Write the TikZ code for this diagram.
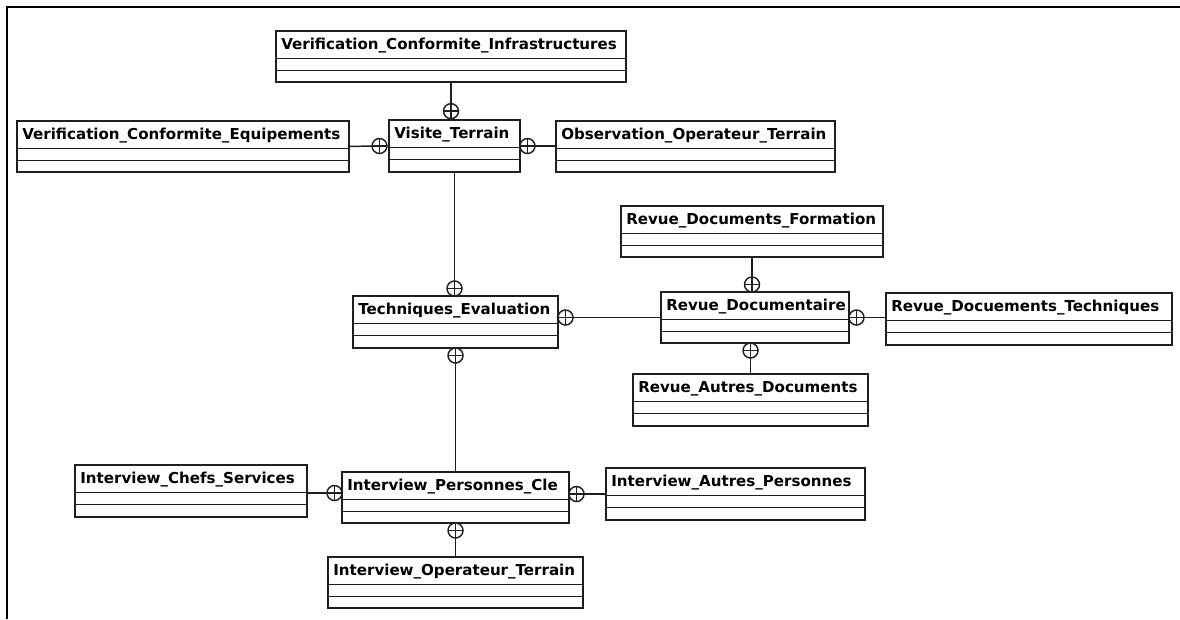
\documentclass[tikz,border=0pt]{standalone}
\usepackage{fontspec}
\setsansfont{DejaVu Sans}
% one class box: name, x1, y1, x2, y2 (pixel grid), title
\newcommand{\umlclass}[6]{%
  \node[cls, anchor=north west,
        minimum width={(#4-#2)*0.75pt},
        minimum height={(#5-#3)*0.75pt}] (#1) at (#2,#3) {};
  \draw[sep] ([yshift=-20.6pt]#1.north west) -- ([yshift=-20.6pt]#1.north east);
  \draw[sep] ([yshift=-29.6pt]#1.north west) -- ([yshift=-29.6pt]#1.north east);
  \node[lbl, anchor=base west] (#1-title) at ([xshift=3.8pt,yshift=-14.2pt]#1.north west) {#6};
}
\begin{document}
\begin{tikzpicture}[x=0.75pt,y=-0.75pt,
  cls/.style={draw=black!88, line width=1.1pt, inner sep=0pt, outer sep=0pt, fill=white},
  sep/.style={draw=black!88, line width=1.1pt},
  lbl/.style={inner sep=0pt, font=\fontsize{11.3}{13}\selectfont\sffamily\bfseries},
  link/.style={draw=black!88, line width=1.1pt},
  nest/.style={circle, draw=black!88, line width=1.1pt, fill=white, inner sep=0pt,
    outer sep=0pt, minimum size=11.25pt,
    path picture={\draw[line width=1.1pt]
      (path picture bounding box.north) -- (path picture bounding box.south)
      (path picture bounding box.west) -- (path picture bounding box.east);}},
  frame/.style={draw=black, line width=1.8pt}]
\useasboundingbox (0,0) rectangle (1180,619);
\fill[white] (0,0) rectangle (1180,619);
\draw[frame] (1180,7) -- (7,7) -- (7,619);

% classes
\umlclass{infra}{276}{31}{626}{82}{Verification\_Conformite\_Infrastructures}
\umlclass{equip}{17}{121}{349}{172}{Verification\_Conformite\_Equipements}
\umlclass{visite}{389}{120}{520}{172}{Visite\_Terrain}
\umlclass{observ}{556}{121}{835}{172}{Observation\_Operateur\_Terrain}
\umlclass{form}{621}{206}{883}{257}{Revue\_Documents\_Formation}
\umlclass{tech}{353}{296}{558}{348}{Techniques\_Evaluation}
\umlclass{revdoc}{661}{292}{849}{343}{Revue\_Documentaire}
\umlclass{revtech}{886}{293}{1172}{345}{Revue\_Docuements\_Techniques}
\umlclass{revautres}{633}{374}{868}{426}{Revue\_Autres\_Documents}
\umlclass{chefs}{75}{465}{307}{517}{Interview\_Chefs\_Services}
\umlclass{perscle}{342}{472}{569}{523}{Interview\_Personnes\_Cle}
\umlclass{autrpers}{606}{468}{865}{520}{Interview\_Autres\_Personnes}
\umlclass{opter}{328}{557}{583}{608}{Interview\_Operateur\_Terrain}

% nesting links around Visite_Terrain
\node[nest, anchor=south] (n-infra) at ([yshift=1pt]visite.north -| infra.south) {};
\draw[link] (infra.south) -- (n-infra.north);
\node[nest, anchor=east] (n-equip) at ([xshift=-1.5pt]visite.west) {};
\draw[link] (equip.east) -- (n-equip.west);
\node[nest, anchor=west] (n-observ) at (visite.east) {};
\draw[link] (observ.west |- n-observ.east) -- (n-observ.east);

% Techniques_Evaluation
\node[nest, anchor=south] (n-visite) at (tech.north -| visite.south) {};
\draw[link] (visite.south) -- (n-visite.north);
\node[nest, anchor=west] (n-revdoc) at (tech.east |- revdoc.west) {};
\draw[link] (revdoc.west) -- (n-revdoc.east);
\node[nest, anchor=north] (n-perscle) at (tech.south -| perscle.north) {};
\draw[link] (perscle.north) -- (n-perscle.south);

% Revue_Documentaire
\node[nest, anchor=south] (n-form) at (revdoc.north -| form.south) {};
\draw[link] (form.south) -- (n-form.north);
\node[nest, anchor=west] (n-revtech) at (revdoc.east) {};
\draw[link] (revtech.west |- n-revtech.east) -- (n-revtech.east);
\node[nest, anchor=north] (n-revautres) at (revdoc.south -| revautres.north) {};
\draw[link] (revautres.north) -- (n-revautres.south);

% Interview_Personnes_Cle
\node[nest, anchor=east] (n-chefs) at ([yshift=-15.75pt]perscle.north west) {};
\draw[link] (chefs.east |- n-chefs.west) -- (n-chefs.west);
\node[nest, anchor=west] (n-autrpers) at (perscle.east |- autrpers.west) {};
\draw[link] (autrpers.west) -- (n-autrpers.east);
\node[nest, anchor=north] (n-opter) at (perscle.south -| opter.north) {};
\draw[link] (opter.north) -- (n-opter.south);
\end{tikzpicture}
\end{document}
